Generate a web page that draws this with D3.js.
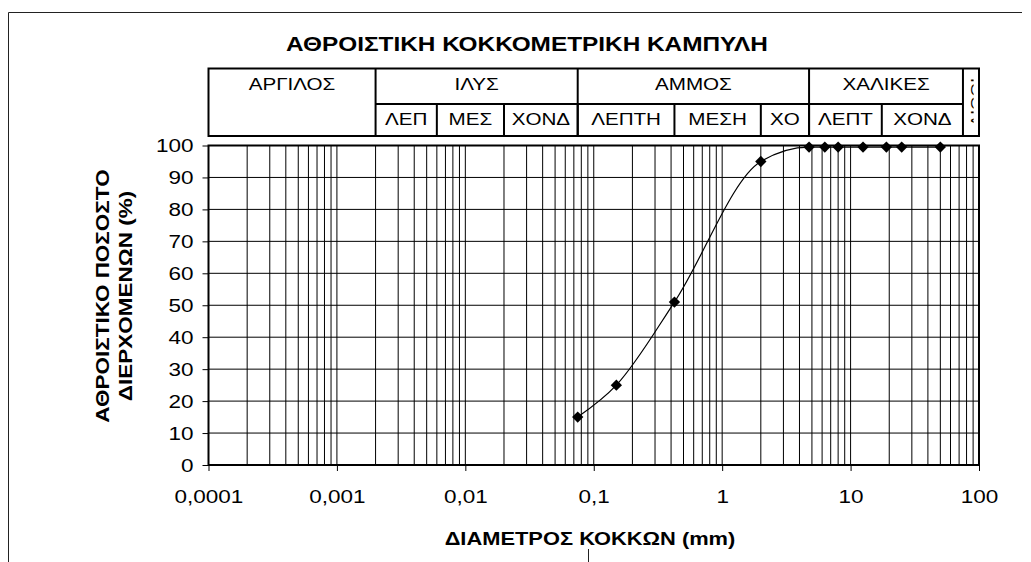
<!DOCTYPE html>
<html><head><meta charset="utf-8">
<script src="https://cdn.jsdelivr.net/npm/d3@7"></script>
<style>body{margin:0;background:#fff}svg{display:block}</style>
</head><body>
<script>
// ---- data ----
const titleText = "ΑΘΡΟΙΣΤΙΚΗ ΚΟΚΚΟΜΕΤΡΙΚΗ ΚΑΜΠΥΛΗ";
const xTitle = "ΔΙΑΜΕΤΡΟΣ ΚΟΚΚΩΝ (mm)";
const yTitleLines = ["ΑΘΡΟΙΣΤΙΚΟ ΠΟΣΟΣΤΟ", "ΔΙΕΡΧΟΜΕΝΩΝ (%)"];
const xDomain = [0.0001, 100];
const xTickValues = [0.0001, 0.001, 0.01, 0.1, 1, 10, 100];
const xTickLabels = ["0,0001", "0,001", "0,01", "0,1", "1", "10", "100"];
const yTickValues = [0, 10, 20, 30, 40, 50, 60, 70, 80, 90, 100];
const sieveSizes = [0.075, 0.15, 0.425, 2, 4.75, 6.3, 8, 12.5, 19, 25, 50];
const percentPassing = [15, 25, 51, 95, 99.5, 99.5, 99.5, 99.5, 99.5, 99.5, 99.5];
const mainClasses = ["ΑΡΓΙΛΟΣ", "ΙΛΥΣ", "ΑΜΜΟΣ", "ΧΑΛΙΚΕΣ", "ΛΙΘΟΙ"];
const mainBounds = [0.0001, 0.002, 0.075, 4.75, 75, 100];
const subClasses = ["ΛΕΠ", "ΜΕΣ", "ΧΟΝΔ", "ΛΕΠΤΗ", "ΜΕΣΗ", "ΧΟ", "ΛΕΠΤ", "ΧΟΝΔ"];
const subBounds = [0.002, 0.006, 0.02, 0.075, 0.425, 2, 4.75, 17.5, 75];

// ---- layout ----
const W = 1031, H = 562, SX = 1.25;
const FONT = '"Liberation Sans", Arial, sans-serif';
const plot = {left: 208.5, right: 979, top: 145.5, bottom: 465};
const table = {top: 68.5, mid: 104, bottom: 136};

const svg = d3.select("body").append("svg").attr("width", W).attr("height", H);
const x = d3.scaleLog().domain(xDomain).range([plot.left, plot.right]);
const y = d3.scaleLinear().domain([0, 100]).range([plot.bottom, plot.top]);

function stext(parent, px, py, str, size, weight, anchor, rot) {
  return parent.append("text")
    .attr("transform", `translate(${px},${py})${rot ? ` rotate(${rot})` : ""} scale(${SX},1)`)
    .attr("text-anchor", anchor)
    .style("font", `${weight} ${size}px ${FONT}`)
    .attr("fill", "#000")
    .text(str);
}

// outer frame pieces
svg.append("path").attr("d", `M8.5,${H} V12.5 H1022`).attr("fill", "none").attr("stroke", "#222").attr("stroke-width", 1);
svg.append("line").attr("x1", 588.5).attr("x2", 588.5).attr("y1", 549).attr("y2", H).attr("stroke", "#222");

// title
stext(svg, 527, 51, titleText, 19.5, "bold", "middle");

// grid
const minorVals = [];
for (let e = -4; e <= 1; e++) for (let k = 1; k <= 9; k++) minorVals.push(+(k * Math.pow(10, e)).toPrecision(3));
const grid = svg.append("g");
grid.selectAll("line.v").data(minorVals).join("line").attr("class", "v")
  .attr("x1", d => x(d)).attr("x2", d => x(d)).attr("y1", plot.top).attr("y2", plot.bottom)
  .attr("stroke", "#000").attr("stroke-width", 1);
grid.selectAll("line.h").data(yTickValues.slice(1, -1)).join("line").attr("class", "h")
  .attr("x1", plot.left).attr("x2", plot.right).attr("y1", d => y(d)).attr("y2", d => y(d))
  .attr("stroke", "#000").attr("stroke-width", 1);

// axes
const yAxis = svg.append("g").attr("transform", `translate(${plot.left},0)`)
  .call(d3.axisLeft(y).tickValues(yTickValues).tickSize(6).tickSizeOuter(0).tickPadding(9));
yAxis.select(".domain").remove();
yAxis.selectAll("line").attr("stroke", "#000");
yAxis.selectAll("text").attr("x", -15 / SX).attr("dy", "0.36em")
  .attr("transform", `scale(${SX},1)`).style("font", `18px ${FONT}`).attr("fill", "#000");

const xAxis = svg.append("g").attr("transform", `translate(0,${plot.bottom})`)
  .call(d3.axisBottom(x).tickValues(xTickValues).tickFormat((d, i) => xTickLabels[i]).tickSize(6).tickSizeOuter(0));
xAxis.select(".domain").remove();
xAxis.selectAll("line").attr("stroke", "#000");
xAxis.selectAll(".tick text").attr("y", 38).attr("dy", 0)
  .attr("transform", `scale(${SX},1)`).style("font", `18px ${FONT}`).attr("fill", "#000")
  .attr("x", 0);

// plot border
svg.append("rect").attr("x", plot.left).attr("y", plot.top)
  .attr("width", plot.right - plot.left).attr("height", plot.bottom - plot.top)
  .attr("fill", "none").attr("stroke", "#000").attr("stroke-width", 2);

// data curve
const pts = sieveSizes.map((s, i) => ({s, p: percentPassing[i]}));
svg.append("path").datum(pts)
  .attr("d", d3.line().x(d => x(d.s)).y(d => y(d.p)).curve(d3.curveMonotoneX))
  .attr("fill", "none").attr("stroke", "#000").attr("stroke-width", 1.2);
svg.selectAll("path.pt").data(pts).join("path").attr("class", "pt")
  .attr("d", d3.symbol(d3.symbolSquare, 64)())
  .attr("transform", d => `translate(${x(d.s)},${y(d.p)}) rotate(45)`)
  .attr("fill", "#000");

// classification table
const tg = svg.append("g");
function tline(x1, y1, x2, y2) {
  tg.append("line").attr("x1", x1).attr("y1", y1).attr("x2", x2).attr("y2", y2)
    .attr("stroke", "#000").attr("stroke-width", 2);
}
tg.append("rect").attr("x", x(mainBounds[0])).attr("y", table.top)
  .attr("width", x(mainBounds[mainBounds.length - 1]) - x(mainBounds[0]))
  .attr("height", table.bottom - table.top).attr("fill", "none").attr("stroke", "#000").attr("stroke-width", 2);
mainBounds.slice(1, -1).forEach(b => tline(x(b), table.top, x(b), table.bottom));
tline(x(subBounds[0]), table.mid, x(subBounds[subBounds.length - 1]), table.mid);
subBounds.slice(1, -1).forEach(b => tline(x(b), table.mid, x(b), table.bottom));

mainClasses.forEach((name, i) => {
  const cx = (x(mainBounds[i]) + x(mainBounds[i + 1])) / 2;
  if (i < mainClasses.length - 1) {
    stext(tg, cx, 90, name, 16.5, "normal", "middle");
  }
});
subClasses.forEach((name, i) => {
  const cx = (x(subBounds[i]) + x(subBounds[i + 1])) / 2;
  stext(tg, cx, 125, name, 16.5, "normal", "middle");
});
// narrow last column: rotated, clipped label
const lastL = x(mainBounds[4]), lastR = x(mainBounds[5]);
svg.append("clipPath").attr("id", "lastclip").append("rect")
  .attr("x", lastL + 1).attr("y", table.top + 1).attr("width", (lastR - lastL) * 0.6).attr("height", table.bottom - table.top - 2);
const lg = tg.append("g").attr("clip-path", "url(#lastclip)");
stext(lg, lastR + 2, (table.top + table.bottom) / 2, mainClasses[4], 14, "normal", "middle", -90);

// axis titles
stext(svg, 590, 545, xTitle, 17.5, "bold", "middle");
stext(svg, 109, 296, yTitleLines[0], 18, "bold", "middle", -90);
stext(svg, 132, 296, yTitleLines[1], 18, "bold", "middle", -90);
</script>
</body></html>
